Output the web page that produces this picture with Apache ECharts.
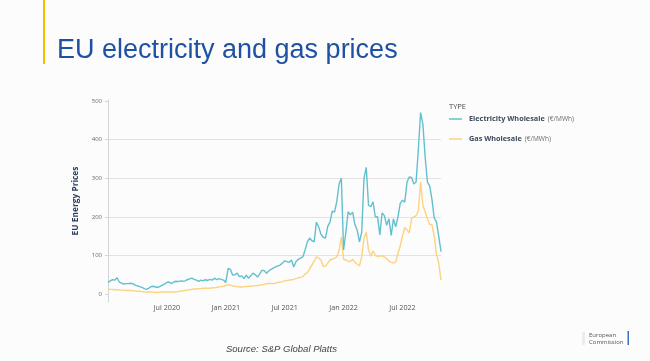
<!DOCTYPE html>
<html>
<head>
<meta charset="utf-8">
<script src="https://cdn.jsdelivr.net/npm/echarts@6/dist/echarts.min.js"></script>
<style>
html,body{margin:0;padding:0;background:#fcfcfc;}
#chart{width:650px;height:361px;}
</style>
</head>
<body>
<div id="chart"></div>
<script>
// Weekly observations (first week: 2020-01-05, last: 2022-10-30)
const firstWeek = '2020-01-05';
const weekCount = 148;
const categories = [];
(function(){
  const d0 = new Date(firstWeek + 'T00:00:00Z');
  for (let i = 0; i < weekCount; i++) {
    const d = new Date(d0.getTime() + i * 7 * 86400000);
    categories.push(d.toISOString().slice(0, 10));
  }
})();

const seriesNames = ['Electricity Wholesale', 'Gas Wholesale'];
const unitLabel = '(€/MWh)';

const electricity = [
  30,34,37,36,42,31,28,26,27,27,28,27,23,21,19,17,14,12,15,19,
  20,18,17,20,23,26,30,31,27,31,33,32,34,33,34,37,39,41,38,36,
  33,36,34,37,35,38,36,41,37,40,38,36,30,66,64,49,50,54,45,47,
  40,49,41,47,54,50,44,52,62,60,54,60,64,67,70,73,75,80,86,84,
  82,88,70,84,90,93,96,114,135,145,138,135,186,174,155,147,145,175,186,215,
  212,240,285,300,114,160,213,205,212,180,165,135,160,300,328,230,226,239,200,200,
  153,210,203,178,195,152,195,174,200,235,243,238,290,303,302,285,290,375,470,440,
  355,290,280,245,197,186,150,110
];

const gas = [
  13,12,12,11,11,10,10,10,9,9,9,8,8,7,7,6,6,5,5,5,
  5,4,4,5,5,5,5,5,5,5,5,6,7,8,9,10,11,12,13,13,
  14,14,15,15,15,15,16,16,17,18,19,20,22,25,23,21,20,19,18,18,
  19,19,20,20,21,21,22,23,24,25,27,28,27,27,28,30,31,32,34,35,
  36,37,38,40,42,43,45,52,55,65,75,85,96,93,88,72,72,80,88,90,
  93,96,112,148,90,88,85,84,90,82,77,73,96,145,160,115,98,111,101,97,
  98,99,96,92,85,82,80,83,105,125,150,172,166,158,196,200,203,215,290,230,
  213,195,180,180,150,104,80,36
];

const yTicks = [0, 100, 200, 300, 400, 500];
const monthNames = ['Jan','Feb','Mar','Apr','May','Jun','Jul','Aug','Sep','Oct','Nov','Dec'];

const chart = echarts.init(document.getElementById('chart'), null, {renderer: 'canvas'});

const plotFont = '"Open Sans", sans-serif';
const colors = ['#62c0ce', '#fdd280'];

function isLabelWeek(index, value) {
  if (index === 0) return false;
  const m = parseInt(value.slice(5, 7), 10);
  const d = parseInt(value.slice(8, 10), 10);
  return (m === 1 || m === 7) && d <= 7;
}

chart.setOption({
  backgroundColor: '#fcfcfc',
  animation: false,
  title: [
    {
      text: 'EU electricity and gas prices',
      left: 52, top: 32,
      textStyle: {fontFamily: '"Liberation Sans", Arial, sans-serif', fontSize: 27, fontWeight: 'normal', color: '#1f51a3'}
    },
    {
      text: 'TYPE',
      left: 444, top: 98,
      textStyle: {fontFamily: plotFont, fontSize: 7.5, fontWeight: 'normal', color: '#4a4a4a'}
    }
  ],
  legend: {
    orient: 'vertical',
    left: 444, top: 108,
    itemWidth: 13, itemHeight: 1.5,
    itemGap: 8,
    icon: 'rect',
    data: seriesNames,
    formatter: function(name){ return '{b|' + name + '} {n|' + unitLabel + '}'; },
    textStyle: {
      fontFamily: plotFont,
      padding: [0, 0, 0, 2],
      rich: {
        b: {fontFamily: plotFont, fontSize: 7.3, fontWeight: 'bold', color: '#3d4a5c'},
        n: {fontFamily: plotFont, fontSize: 6.6, fontWeight: 'normal', color: '#6a6a6a'}
      }
    }
  },
  grid: [
    {left: 108, right: 209, top: 101, bottom: 67},
    {left: 108, right: 209, top: 100, bottom: 59}
  ],
  xAxis: [
    {
      type: 'category', gridIndex: 0, data: categories, boundaryGap: false,
      axisLine: {show: false}, axisTick: {show: false},
      axisLabel: {
        interval: isLabelWeek,
        formatter: function(value){
          return monthNames[parseInt(value.slice(5,7),10) - 1] + ' ' + value.slice(0,4);
        },
        margin: 10, fontFamily: plotFont, fontSize: 7.2, color: '#555'
      },
      splitLine: {show: false}
    },
    {
      type: 'category', gridIndex: 1, data: categories, boundaryGap: false, show: false
    }
  ],
  yAxis: [
    {
      type: 'value', gridIndex: 0, min: yTicks[0], max: yTicks[yTicks.length - 1], interval: 100,
      axisLine: {show: false},
      axisTick: {show: true, length: 3, lineStyle: {color: '#d5d5d5'}},
      axisLabel: {margin: 6, fontFamily: plotFont, fontSize: 6, color: '#666'},
      splitLine: {show: true, showMinLine: false, showMaxLine: false, lineStyle: {color: '#e2e2e2', width: 1}}
    },
    {
      type: 'value', gridIndex: 1, min: 0, max: 1,
      name: 'EU Energy Prices', nameLocation: 'middle', nameGap: 28,
      nameTextStyle: {fontFamily: plotFont, fontSize: 8.4, fontWeight: 'bold', color: '#2a3f5f'},
      axisLine: {show: true, lineStyle: {color: '#d5d5d5', width: 1}},
      axisTick: {show: false}, axisLabel: {show: false}, splitLine: {show: false}
    }
  ],
  series: [
    {
      name: seriesNames[0], type: 'line', xAxisIndex: 0, yAxisIndex: 0,
      data: electricity, showSymbol: false, symbol: 'none', z: 3,
      lineStyle: {color: colors[0], width: 1.4}, itemStyle: {color: colors[0]}
    },
    {
      name: seriesNames[1], type: 'line', xAxisIndex: 0, yAxisIndex: 0,
      data: gas, showSymbol: false, symbol: 'none', z: 2,
      lineStyle: {color: colors[1], width: 1.4}, itemStyle: {color: colors[1]}
    }
  ],
  graphic: [
    {type: 'rect', shape: {x: 43, y: 0, width: 2, height: 64}, style: {fill: '#f5bd00'}},
    {type: 'text', x: 226, y: 349, style: {text: 'Source: S&P Global Platts', font: 'italic 9.5px "Liberation Sans", Arial, sans-serif', fill: '#444', textVerticalAlign: 'middle'}},
    {type: 'rect', shape: {x: 582, y: 332, width: 3, height: 13}, style: {fill: '#ececec'}},
    {type: 'text', x: 589, y: 335, style: {text: 'European', font: '6px "Open Sans", sans-serif', fill: '#555', textVerticalAlign: 'middle'}},
    {type: 'text', x: 589, y: 342.5, style: {text: 'Commission', font: '6px "Open Sans", sans-serif', fill: '#555', textVerticalAlign: 'middle'}},
    {type: 'rect', shape: {x: 627.5, y: 331, width: 1.5, height: 14}, style: {fill: '#3a6fc0'}}
  ]
});
</script>
</body>
</html>
